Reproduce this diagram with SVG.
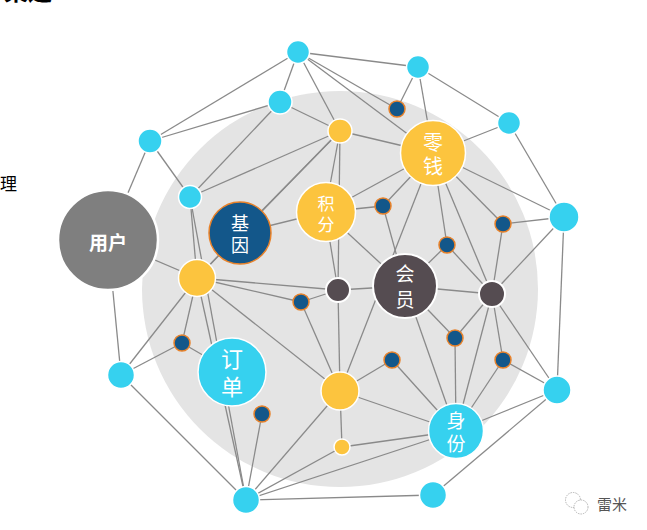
<svg xmlns="http://www.w3.org/2000/svg" width="647" height="530" viewBox="0 0 647 530">
<style>
.e{stroke:#8a8a8a;stroke-width:1.3;fill:none}
.cy{fill:#36d1ef;stroke:#fff;stroke-width:1.5}
.ye{fill:#fcc43e;stroke:#fff;stroke-width:1.5}
.nv{fill:#13578a;stroke:#e8822a;stroke-width:1.5}
.dk{fill:#554c51;stroke:#fff;stroke-width:2}
.gr{fill:#7f7f7f;stroke:#fff;stroke-width:2.5}
.t{fill:#fff;font-family:"Noto Sans CJK SC","Noto Sans",sans-serif;text-anchor:middle;dominant-baseline:central}
</style>
<rect width="647" height="530" fill="#fff"/>
<text x="4" y="0" font-family="Noto Sans CJK SC, sans-serif" font-size="24" font-weight="bold" fill="#000">渠道</text>
<text x="0" y="190" font-family="Noto Sans CJK SC, sans-serif" font-size="17" fill="#000">理</text>
<circle cx="340" cy="289" r="198" fill="#e4e4e4"/>
<g id="connectors">
<line class="e" x1="298" y1="52" x2="150" y2="141"/>
<line class="e" x1="298" y1="52" x2="280" y2="102"/>
<line class="e" x1="298" y1="52" x2="340" y2="131"/>
<line class="e" x1="298" y1="52" x2="397" y2="109"/>
<line class="e" x1="298" y1="52" x2="433" y2="153"/>
<line class="e" x1="298" y1="52" x2="418" y2="67"/>
<line class="e" x1="418" y1="67" x2="397" y2="109"/>
<line class="e" x1="418" y1="67" x2="433" y2="153"/>
<line class="e" x1="418" y1="67" x2="509" y2="123"/>
<line class="e" x1="509" y1="123" x2="433" y2="153"/>
<line class="e" x1="509" y1="123" x2="564" y2="217"/>
<line class="e" x1="564" y1="217" x2="433" y2="153"/>
<line class="e" x1="564" y1="217" x2="503" y2="224"/>
<line class="e" x1="564" y1="217" x2="492" y2="294"/>
<line class="e" x1="564" y1="217" x2="557" y2="390"/>
<line class="e" x1="557" y1="390" x2="492" y2="294"/>
<line class="e" x1="557" y1="390" x2="503" y2="360"/>
<line class="e" x1="557" y1="390" x2="456" y2="431"/>
<line class="e" x1="557" y1="390" x2="433" y2="495"/>
<line class="e" x1="433" y1="495" x2="246" y2="500"/>
<line class="e" x1="246" y1="500" x2="121" y2="375"/>
<line class="e" x1="246" y1="500" x2="197" y2="278"/>
<line class="e" x1="246" y1="500" x2="190" y2="197"/>
<line class="e" x1="246" y1="500" x2="262" y2="414"/>
<line class="e" x1="246" y1="500" x2="340" y2="391"/>
<line class="e" x1="246" y1="500" x2="342" y2="447"/>
<line class="e" x1="246" y1="500" x2="456" y2="431"/>
<line class="e" x1="121" y1="375" x2="108" y2="240"/>
<line class="e" x1="121" y1="375" x2="197" y2="278"/>
<line class="e" x1="121" y1="375" x2="182" y2="343"/>
<line class="e" x1="150" y1="141" x2="280" y2="102"/>
<line class="e" x1="150" y1="141" x2="190" y2="197"/>
<line class="e" x1="150" y1="141" x2="108" y2="240"/>
<line class="e" x1="280" y1="102" x2="190" y2="197"/>
<line class="e" x1="280" y1="102" x2="340" y2="131"/>
<line class="e" x1="190" y1="197" x2="340" y2="131"/>
<line class="e" x1="190" y1="197" x2="197" y2="278"/>
<line class="e" x1="340" y1="131" x2="433" y2="153"/>
<line class="e" x1="340" y1="131" x2="325" y2="212"/>
<line class="e" x1="340" y1="131" x2="338" y2="290"/>
<line class="e" x1="340" y1="131" x2="240" y2="233"/>
<line class="e" x1="340" y1="131" x2="197" y2="278"/>
<line class="e" x1="108" y1="240" x2="197" y2="278"/>
<line class="e" x1="197" y1="278" x2="240" y2="233"/>
<line class="e" x1="197" y1="278" x2="182" y2="343"/>
<line class="e" x1="197" y1="278" x2="340" y2="391"/>
<line class="e" x1="197" y1="278" x2="301" y2="302"/>
<line class="e" x1="197" y1="278" x2="338" y2="290"/>
<line class="e" x1="182" y1="343" x2="232" y2="372"/>
<line class="e" x1="325" y1="212" x2="433" y2="153"/>
<line class="e" x1="325" y1="212" x2="383" y2="206"/>
<line class="e" x1="325" y1="212" x2="405" y2="286"/>
<line class="e" x1="325" y1="212" x2="338" y2="290"/>
<line class="e" x1="325" y1="212" x2="240" y2="233"/>
<line class="e" x1="383" y1="206" x2="433" y2="153"/>
<line class="e" x1="383" y1="206" x2="405" y2="286"/>
<line class="e" x1="433" y1="153" x2="447" y2="245"/>
<line class="e" x1="433" y1="153" x2="492" y2="294"/>
<line class="e" x1="433" y1="153" x2="503" y2="224"/>
<line class="e" x1="433" y1="153" x2="340" y2="391"/>
<line class="e" x1="447" y1="245" x2="405" y2="286"/>
<line class="e" x1="447" y1="245" x2="492" y2="294"/>
<line class="e" x1="503" y1="224" x2="492" y2="294"/>
<line class="e" x1="405" y1="286" x2="338" y2="290"/>
<line class="e" x1="405" y1="286" x2="492" y2="294"/>
<line class="e" x1="405" y1="286" x2="455" y2="338"/>
<line class="e" x1="405" y1="286" x2="456" y2="431"/>
<line class="e" x1="338" y1="290" x2="301" y2="302"/>
<line class="e" x1="338" y1="290" x2="340" y2="391"/>
<line class="e" x1="301" y1="302" x2="340" y2="391"/>
<line class="e" x1="492" y1="294" x2="455" y2="338"/>
<line class="e" x1="492" y1="294" x2="456" y2="431"/>
<line class="e" x1="492" y1="294" x2="503" y2="360"/>
<line class="e" x1="455" y1="338" x2="456" y2="431"/>
<line class="e" x1="503" y1="360" x2="456" y2="431"/>
<line class="e" x1="340" y1="391" x2="392" y2="360"/>
<line class="e" x1="340" y1="391" x2="456" y2="431"/>
<line class="e" x1="340" y1="391" x2="342" y2="447"/>
<line class="e" x1="392" y1="360" x2="456" y2="431"/>
<line class="e" x1="342" y1="447" x2="456" y2="431"/>
</g>
<g id="n-top1"><circle class="cy" cx="298" cy="52" r="11.5"/></g>
<g id="n-top2"><circle class="cy" cx="418" cy="67" r="11.5"/></g>
<g id="n-r1"><circle class="cy" cx="509" cy="123" r="11.5"/></g>
<g id="n-r2"><circle class="cy" cx="564" cy="217" r="15"/></g>
<g id="n-r3"><circle class="cy" cx="557" cy="390" r="14"/></g>
<g id="n-b1"><circle class="cy" cx="433" cy="495" r="13.5"/></g>
<g id="n-b2"><circle class="cy" cx="246" cy="500" r="13.5"/></g>
<g id="n-l1"><circle class="cy" cx="121" cy="375" r="13.5"/></g>
<g id="n-l2"><circle class="cy" cx="150" cy="141" r="12"/></g>
<g id="n-t3"><circle class="cy" cx="280" cy="102" r="12"/></g>
<g id="n-k"><circle class="cy" cx="190" cy="197" r="11.5"/></g>
<g id="n-y1"><circle class="ye" cx="340" cy="131" r="12"/></g>
<g id="n-y2"><circle class="ye" cx="197" cy="278" r="18.5"/></g>
<g id="n-y3"><circle class="ye" cx="340" cy="391" r="19"/></g>
<g id="n-y4"><circle class="ye" cx="342" cy="447" r="8"/></g>
<g id="n-v1"><circle class="nv" cx="397" cy="109" r="8"/></g>
<g id="n-v2"><circle class="nv" cx="383" cy="206" r="8"/></g>
<g id="n-v3"><circle class="nv" cx="447" cy="245" r="8"/></g>
<g id="n-v4"><circle class="nv" cx="503" cy="224" r="8"/></g>
<g id="n-v5"><circle class="nv" cx="301" cy="302" r="8"/></g>
<g id="n-v6"><circle class="nv" cx="182" cy="343" r="8"/></g>
<g id="n-v7"><circle class="nv" cx="455" cy="338" r="8"/></g>
<g id="n-v8"><circle class="nv" cx="392" cy="360" r="8"/></g>
<g id="n-v9"><circle class="nv" cx="503" cy="360" r="8"/></g>
<g id="n-v10"><circle class="nv" cx="262" cy="414" r="8"/></g>
<g id="n-d1"><circle class="dk" cx="338" cy="290" r="12"/></g>
<g id="n-d2"><circle class="dk" cx="492" cy="294" r="13"/></g>
<g id="n-yonghu"><circle class="gr" cx="108" cy="240" r="50"/><text class="t" x="108" y="241" font-size="19" font-weight="bold">用户</text></g>
<g id="n-jiyin"><circle class="nv" cx="240" cy="233" r="31"/><text class="t" x="240" y="222" font-size="18">基</text><text class="t" x="240" y="244" font-size="18">因</text></g>
<g id="n-jifen"><circle class="ye" cx="326" cy="212" r="29.5"/><text class="t" x="326" y="202" font-size="17">积</text><text class="t" x="326" y="223" font-size="17">分</text></g>
<g id="n-lingqian"><circle class="ye" cx="433" cy="153" r="32.5"/><text class="t" x="433" y="141" font-size="20">零</text><text class="t" x="433" y="165" font-size="20">钱</text></g>
<g id="n-huiyuan"><circle class="dk" cx="405" cy="286" r="32"/><text class="t" x="405" y="272" font-size="19">会</text><text class="t" x="405" y="298" font-size="19">员</text></g>
<g id="n-dingdan"><circle class="cy" cx="232" cy="372" r="34"/><text class="t" x="232" y="357" font-size="22">订</text><text class="t" x="232" y="385" font-size="22">单</text></g>
<g id="n-shenfen"><circle class="cy" cx="456" cy="431" r="27.5"/><text class="t" x="456" y="419" font-size="19">身</text><text class="t" x="456" y="442" font-size="19">份</text></g>
<g id="watermark">
<circle cx="573" cy="500" r="7.5" fill="none" stroke="#aaa" stroke-width="0.9" stroke-dasharray="1.5 1"/>
<circle cx="581" cy="507" r="7" fill="#fff" stroke="#aaa" stroke-width="0.9" stroke-dasharray="1.5 1"/>
<text x="597" y="510" font-family="Noto Sans CJK SC, sans-serif" font-size="15" fill="#555">雷米</text>
</g>
</svg>
